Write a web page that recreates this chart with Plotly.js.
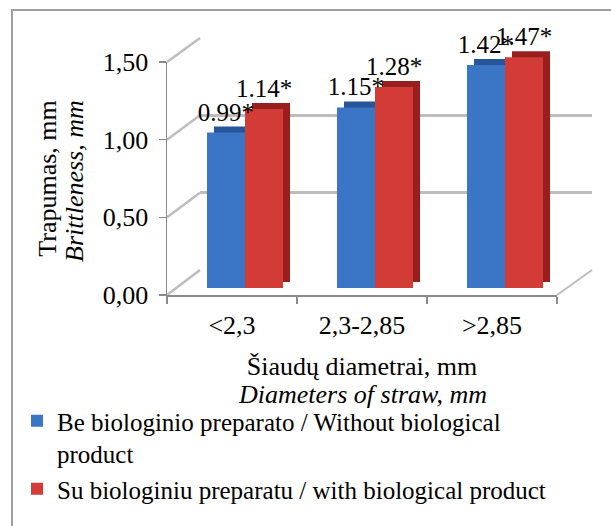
<!DOCTYPE html>
<html>
<head>
<meta charset="utf-8">
<script src="https://cdn.plot.ly/plotly-3.0.1.min.js"></script>
<style>html,body{margin:0;padding:0;background:#fff;}#chart{width:611px;height:526px;}</style>
</head>
<body>
<div id="chart"></div>
<script>
// ---- data ----
const categories = ['<2,3', '2,3-2,85', '>2,85'];
const withoutBio = [0.99, 1.15, 1.42];
const withBio = [1.14, 1.28, 1.47];
const withoutBioLabels = ['0.99*', '1.15*', '1.42*'];
const withBioLabels = ['1.14*', '1.28*', '1.47*'];
const yTicks = [0, 0.5, 1.0, 1.5];
const seriesNames = [
  'Be biologinio preparato / Without biological<br>product',
  'Su biologiniu preparatu / with biological product'
];
const xTitle = ['Šiaudų diametrai, mm', 'Diameters of straw, mm'];
const yTitle = ['Trapumas, mm', 'Brittleness, mm'];

// ---- geometry helpers (pixel -> paper) ----
const W = 611, H = 526;
const px = x => x / W;
const py = y => (H - y) / H;
const YMAX = 1.5;

const F = {x0: 167, x1: 557, y0: 295, y1: 62};          // front axis frame
const B = {x0: 200, x1: 592, y0: 270, y1: 38};          // back wall
const BR = {x0: 180, x1: 570, y0: 288, y1: 288 - 1.5 * 157}; // bar front faces
const DX = 7, DY = 6;     // bar depth offset
const LY = 4;             // label lift

const font = "'Liberation Serif', 'Times New Roman', serif";
const gray = '#8a8a8a';
const txt = (s) => ({family: font, size: s, color: '#000'});

const traces = [
  {x: categories, y: [null, null, null], type: 'scatter', mode: 'markers', xaxis: 'x', yaxis: 'y', showlegend: false, hoverinfo: 'skip'},
  {x: categories, y: withoutBio, type: 'bar', xaxis: 'x2', yaxis: 'y2', showlegend: false, marker: {color: '#27559a'}, hoverinfo: 'skip'},
  {x: categories, y: withBio, type: 'bar', xaxis: 'x2', yaxis: 'y2', showlegend: false, marker: {color: '#981f1d'}, hoverinfo: 'skip'},
  {x: categories, y: withoutBio, type: 'bar', xaxis: 'x3', yaxis: 'y3', name: seriesNames[0], marker: {color: '#3b75c6'}},
  {x: categories, y: withBio, type: 'bar', xaxis: 'x3', yaxis: 'y3', name: seriesNames[1], marker: {color: '#d23b36'}},
  {x: categories, y: withoutBio, type: 'bar', xaxis: 'x5', yaxis: 'y5', showlegend: false, hoverinfo: 'skip',
   marker: {color: 'rgba(0,0,0,0)'}, text: withoutBioLabels, textposition: 'outside', cliponaxis: false,
   constraintext: 'none', textfont: txt(25)},
  {x: categories, y: withBio, type: 'bar', xaxis: 'x5', yaxis: 'y5', showlegend: false, hoverinfo: 'skip',
   marker: {color: 'rgba(0,0,0,0)'}, text: withBioLabels, textposition: 'outside', cliponaxis: false,
   constraintext: 'none', textfont: txt(25)},
  {x: categories, y: [null, null, null], type: 'scatter', mode: 'markers', xaxis: 'x4', yaxis: 'y4', showlegend: false, hoverinfo: 'skip'}
];

const hidden = {visible: false, fixedrange: true};

const shapes = [];
yTicks.forEach(v => {
  const yf = F.y0 + (F.y1 - F.y0) * v / YMAX;
  const yb = B.y0 + (B.y1 - B.y0) * v / YMAX;
  shapes.push({type: 'line', xref: 'paper', yref: 'paper', x0: px(F.x0), y0: py(yf), x1: px(B.x0), y1: py(yb),
    line: {color: '#bdbdbd', width: 2.5}, layer: 'below'});
});
shapes.push({type: 'line', xref: 'paper', yref: 'paper', x0: px(F.x1), y0: py(F.y0), x1: px(B.x1), y1: py(B.y0),
  line: {color: '#bdbdbd', width: 2}, layer: 'below'});
shapes.push({type: 'rect', xref: 'paper', yref: 'paper', x0: px(12), y0: py(540), x1: px(640), y1: py(10),
  line: {color: '#a0a0a0', width: 2}, fillcolor: 'rgba(0,0,0,0)', layer: 'below'});

const annotations = [
  {text: '<i>' + xTitle[1] + '</i>', xref: 'paper', yref: 'paper', x: px((F.x0 + F.x1) / 2), y: py(394),
   xanchor: 'center', yanchor: 'middle', showarrow: false, font: txt(26)},
  {text: '<i>' + yTitle[1] + '</i>', xref: 'paper', yref: 'paper', x: px(74), y: py(181),
   xanchor: 'center', yanchor: 'middle', showarrow: false, textangle: -90, font: txt(26)}
];

const layout = {
  width: W, height: H,
  margin: {l: 0, r: 0, t: 0, b: 0},
  paper_bgcolor: '#fff', plot_bgcolor: 'rgba(0,0,0,0)',
  separators: ',.',
  font: txt(24),
  barmode: 'group', bargap: 0.415, bargroupgap: 0,
  showlegend: true,
  legend: {x: px(17), y: py(398), xanchor: 'left', yanchor: 'top', font: txt(25),
    bgcolor: 'rgba(0,0,0,0)', tracegroupgap: 0, valign: 'top', itemwidth: 30},
  xaxis: {domain: [px(B.x0), px(B.x1)], anchor: 'y', type: 'category', range: [-0.5, 2.5], visible: false},
  yaxis: {domain: [py(B.y0), py(B.y1)], anchor: 'x', range: [0, YMAX], tickvals: yTicks, showgrid: true,
    gridcolor: '#bdbdbd', gridwidth: 2.5, showticklabels: false, ticks: '', showline: false, zeroline: false, fixedrange: true},
  xaxis2: Object.assign({domain: [px(BR.x0 + DX), px(BR.x1 + DX)], anchor: 'y2', type: 'category', range: [-0.5, 2.5]}, hidden),
  yaxis2: Object.assign({domain: [py(BR.y0 - DY), py(BR.y1 - DY)], anchor: 'x2', range: [0, YMAX]}, hidden),
  xaxis3: Object.assign({domain: [px(BR.x0), px(BR.x1)], anchor: 'y3', type: 'category', range: [-0.5, 2.5]}, hidden),
  yaxis3: Object.assign({domain: [py(BR.y0), py(BR.y1)], anchor: 'x3', range: [0, YMAX]}, hidden),
  xaxis5: Object.assign({domain: [px(BR.x0), px(BR.x1)], anchor: 'y5', type: 'category', range: [-0.5, 2.5]}, hidden),
  yaxis5: Object.assign({domain: [py(BR.y0 - LY), py(BR.y1 - LY)], anchor: 'x5', range: [0, YMAX]}, hidden),
  xaxis4: {domain: [px(F.x0), px(F.x1)], anchor: 'y4', type: 'category', range: [-0.5, 2.5],
    tickson: 'boundaries', ticks: 'outside', ticklen: 7, tickcolor: gray, tickwidth: 1.5,
    showline: true, linecolor: gray, linewidth: 1.5, showgrid: false, zeroline: false, fixedrange: true,
    ticklabelstandoff: 6, tickfont: txt(26),
    title: {text: xTitle[0], font: txt(26), standoff: 18}},
  yaxis4: {domain: [py(F.y0), py(F.y1)], anchor: 'x4', range: [0, YMAX], tickvals: yTicks, tickformat: '.2f',
    ticks: 'outside', ticklen: 7, tickcolor: gray, tickwidth: 1.5, showline: true, linecolor: gray, linewidth: 1.5,
    showgrid: false, zeroline: false, fixedrange: true, ticklabelstandoff: 5, tickfont: txt(26),
    title: {text: yTitle[0], font: txt(26), standoff: 38}},
  annotations: annotations,
  shapes: shapes
};

Plotly.newPlot('chart', traces, layout, {displayModeBar: false, staticPlot: true});
</script>
</body>
</html>
